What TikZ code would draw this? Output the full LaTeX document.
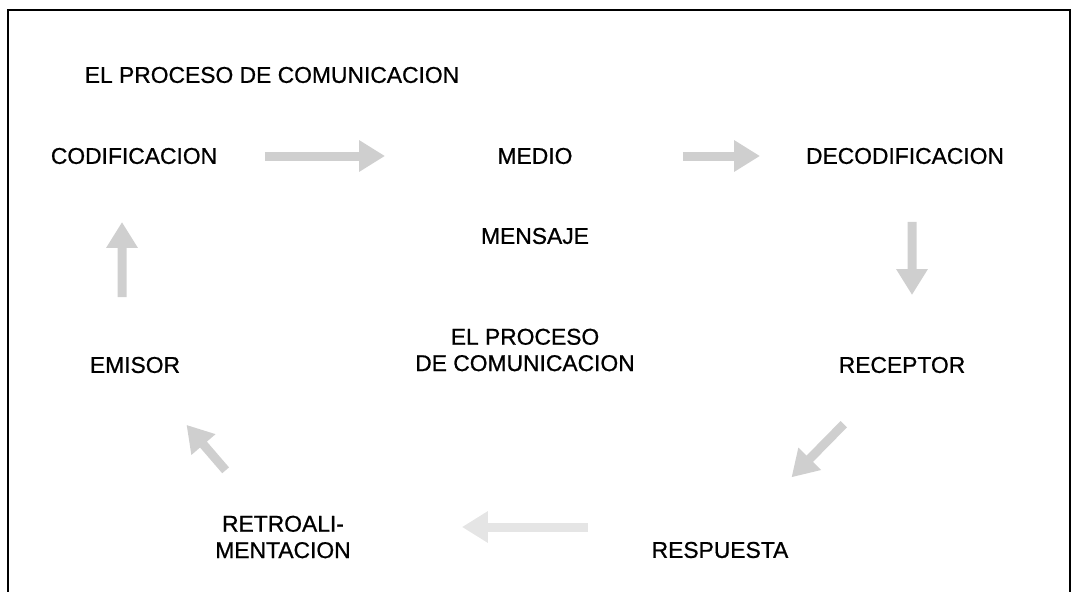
\documentclass[tikz,border=0pt]{standalone}
\usepackage{fontspec}
\setmainfont{Liberation Sans}
\newfontfamily\letra{Liberation Sans}[FakeBold=0.8]
\usepackage{tikz}
\usetikzlibrary{arrows.meta,positioning}

\begin{document}
\begin{tikzpicture}[x=0.02cm, y=-0.02cm,
        texto/.style={inner sep=0pt, align=center, font=\letra\fontsize{13}{15}\selectfont},
        flecha/.style={draw=gray!38, line width=0.18cm, -{Triangle[length=0.52cm, width=0.6cm]}},
        tenue/.style={draw=gray!20},
        marco/.style={line width=1.1pt}
    ]

    \useasboundingbox (0,0) rectangle (1073,592) ;
    \draw[marco] (8,592) -- (8,10) -- (1070,10) -- (1070,592) ;

    \node[texto] (titulo)    at (272,75)  {EL PROCESO DE COMUNICACION} ;
    \node[texto] (cod)       at (134,156) {CODIFICACION} ;
    \node[texto] (medio)     at (535,156) {MEDIO} ;
    \node[texto] (deco)      at (905,156) {DECODIFICACION} ;
    \node[texto] (mensaje)   at (535,236) {MENSAJE} ;
    \node[texto] (proceso)   at (525,350) {EL PROCESO\\DE COMUNICACION} ;
    \node[texto] (emisor)    at (135,365) {EMISOR} ;
    \node[texto] (receptor)  at (902,365) {RECEPTOR} ;
    \node[texto] (retro)     at (283,537) {RETROALI-\\MENTACION} ;
    \node[texto] (respuesta) at (720,550) {RESPUESTA} ;

    % flechas del ciclo
    \draw[flecha, shorten <=2.62cm, shorten >=3.0cm] (cod.center) -- (medio.center) ;
    \draw[flecha, shorten <=2.96cm, shorten >=2.9cm] (medio.center) -- (deco.center) ;
    \draw[flecha, shorten <=1.32cm, shorten >=1.4cm]
        ([xshift=0.14cm]deco.center) -- ([xshift=0.2cm]receptor.center) ;
    \draw[flecha, shorten <=1.66cm, shorten >=2.04cm] (receptor.center) -- (respuesta.center) ;
    \draw[flecha, tenue, shorten <=2.64cm, shorten >=3.58cm]
        ([yshift=0.46cm]respuesta.center) -- ([yshift=0.46cm]respuesta.center -| retro.center) ;
    \draw[flecha, shorten <=1.76cm, shorten >=1.58cm] (retro.center) -- (emisor.center) ;
    \draw[flecha, shorten <=1.36cm, shorten >=1.32cm]
        ([xshift=-0.26cm]emisor.center) -- ([xshift=-0.24cm]cod.center) ;

\end{tikzpicture}
\end{document}
